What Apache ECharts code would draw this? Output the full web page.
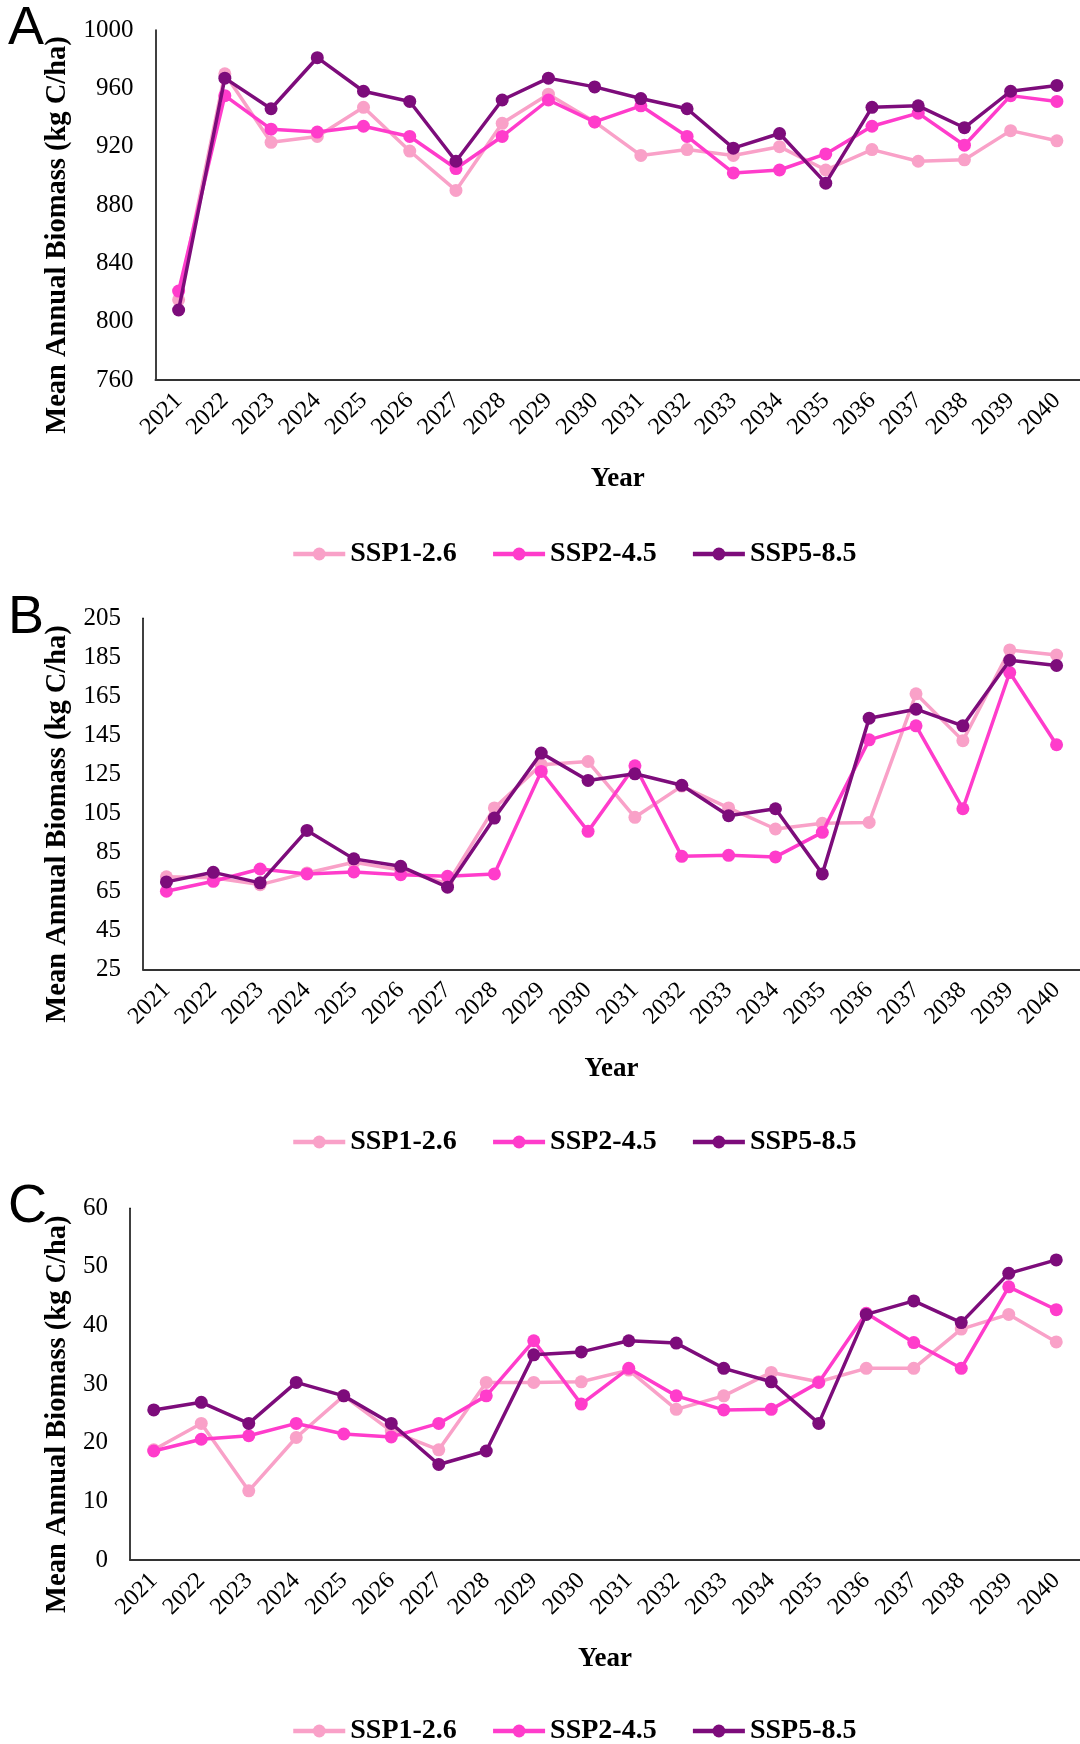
<!DOCTYPE html>
<html>
<head>
<meta charset="utf-8">
<script src="https://cdn.jsdelivr.net/npm/echarts@6/dist/echarts.min.js"></script>
<style>html,body{margin:0;padding:0;background:#fff}#c{width:1080px;height:1744px}</style>
</head>
<body>
<div id="c"></div>
<script>
const years = ['2021','2022','2023','2024','2025','2026','2027','2028','2029','2030','2031','2032','2033','2034','2035','2036','2037','2038','2039','2040'];
const seriesNames = ['SSP1-2.6','SSP2-4.5','SSP5-8.5'];

const A_ssp1 = [815, 970, 923, 927, 947, 917, 890, 936, 956, 937, 914, 918, 914, 920, 904, 918, 910, 911, 931, 924];
const A_ssp2 = [821, 955, 932, 930, 934, 927, 905, 927, 952, 937, 948, 927, 902, 904, 915, 934, 943, 921, 955, 951];
const A_ssp5 = [808, 967, 946, 981, 958, 951, 910, 952, 967, 961, 953, 946, 919, 929, 895, 947, 948, 933, 958, 962];
const A_ticks = [760, 800, 840, 880, 920, 960, 1000];

const B_ssp1 = [72.5, 72, 68.5, 74.5, 80, 76, 69, 107.8, 130, 131.6, 103, 119, 107.8, 97, 99.9, 100.4, 166.3, 142.3, 188.8, 186.2];
const B_ssp2 = [65.1, 70.2, 76.5, 74, 75, 73.6, 72.8, 74, 126.5, 95.8, 129.4, 83, 83.5, 82.7, 95.3, 142.7, 149.9, 107.4, 177.2, 140.2];
const B_ssp5 = [69.9, 74.8, 69.4, 96.3, 81.7, 77.9, 67.2, 102.6, 135.9, 121.9, 125.3, 119.4, 103.8, 107.4, 74, 153.8, 158.4, 149.9, 183.5, 180.8];
const B_ticks = [25, 45, 65, 85, 105, 125, 145, 165, 185, 205];

const C_ssp1 = [18.8, 23.3, 11.8, 20.9, 28, 22, 18.8, 30.3, 30.3, 30.4, 32.4, 25.7, 28, 32, 30.4, 32.7, 32.7, 39.4, 41.9, 37.2];
const C_ssp2 = [18.6, 20.6, 21.2, 23.3, 21.5, 21, 23.3, 28, 37.4, 26.6, 32.7, 28, 25.6, 25.7, 30.3, 42.1, 37.1, 32.7, 46.6, 42.7];
const C_ssp5 = [25.6, 26.9, 23.3, 30.3, 28, 23.3, 16.3, 18.6, 35, 35.5, 37.4, 37, 32.7, 30.4, 23.3, 41.9, 44.2, 40.5, 48.9, 51.2];
const C_ticks = [0, 10, 20, 30, 40, 50, 60];

const colors = ['#F9A1C8', '#FF3CCB', '#7D0C7B'];
const SERIF = "'Liberation Serif','Times New Roman',serif";

const panels = [
  {letter:'A', data:[A_ssp1,A_ssp2,A_ssp5], ticks:A_ticks, top:30, bottom:1744-380, left:155.5, right:-4.5, legendTop:535, letterY:32},
  {letter:'B', data:[B_ssp1,B_ssp2,B_ssp5], ticks:B_ticks, top:618.3, bottom:1744-969.5, left:143, right:-4.5, legendTop:1123, letterY:621},
  {letter:'C', data:[C_ssp1,C_ssp2,C_ssp5], ticks:C_ticks, top:1208.3, bottom:1744-1560, left:130, right:-5.5, legendTop:1712, letterY:1210}
];

const option = {
  animation: false,
  backgroundColor: '#fff',
  color: colors,
  grid: [], xAxis: [], yAxis: [], series: [], legend: [], graphic: []
};

panels.forEach((p, i) => {
  option.grid.push({top:p.top, bottom:p.bottom, left:p.left, right:p.right, containLabel:false});
  option.xAxis.push({
    type:'category', gridIndex:i, data:years, boundaryGap:true,
    name:'Year', nameLocation:'middle', nameGap:86,
    nameTextStyle:{fontFamily:SERIF, fontWeight:'bold', fontSize:27, color:'#000'},
    axisLine:{lineStyle:{color:'#333', width:2}},
    axisTick:{show:false},
    axisLabel:{rotate:45, fontFamily:SERIF, fontSize:24, color:'#000', margin:17, interval:0}
  });
  option.yAxis.push({
    type:'value', gridIndex:i, min:p.ticks[0], max:p.ticks[p.ticks.length-1],
    name:'Mean Annual Biomass (kg C/ha)', nameLocation:'middle', nameGap:p.left - 74, nameRotate:90,
    nameTextStyle:{fontFamily:SERIF, fontWeight:'bold', fontSize:28.5, color:'#000', padding:[0,60,0,0]},
    axisLine:{show:true, lineStyle:{color:'#000', width:1.5}},
    axisTick:{show:false},
    splitLine:{show:false},
    axisLabel:{fontFamily:SERIF, fontSize:25, color:'#000', margin:22, customValues:p.ticks,
      formatter:(v) => String(v)}
  });
  p.data.forEach((d, k) => {
    option.series.push({
      type:'line', name:seriesNames[k], xAxisIndex:i, yAxisIndex:i, data:d,
      symbol:'circle', symbolSize:13, showSymbol:true,
      lineStyle:{width:3.5, color:colors[k]}, itemStyle:{color:colors[k]},
      z: 2 + k
    });
  });
  option.legend.push({
    data:seriesNames, top:p.legendTop, left:286, itemWidth:52, itemHeight:16, itemGap:34,
    textStyle:{fontFamily:SERIF, fontWeight:'bold', fontSize:28, color:'#000'},
    lineStyle:{width:4.5},
    selectedMode:false
  });
  option.graphic.push({
    type:'text', left:8, top:p.letterY - 30,
    style:{text:p.letter, font:"54px 'Liberation Sans', Arial, sans-serif", fill:'#000'}
  });
});

const chart = echarts.init(document.getElementById('c'), null, {renderer:'canvas'});
chart.setOption(option);
</script>
</body>
</html>
